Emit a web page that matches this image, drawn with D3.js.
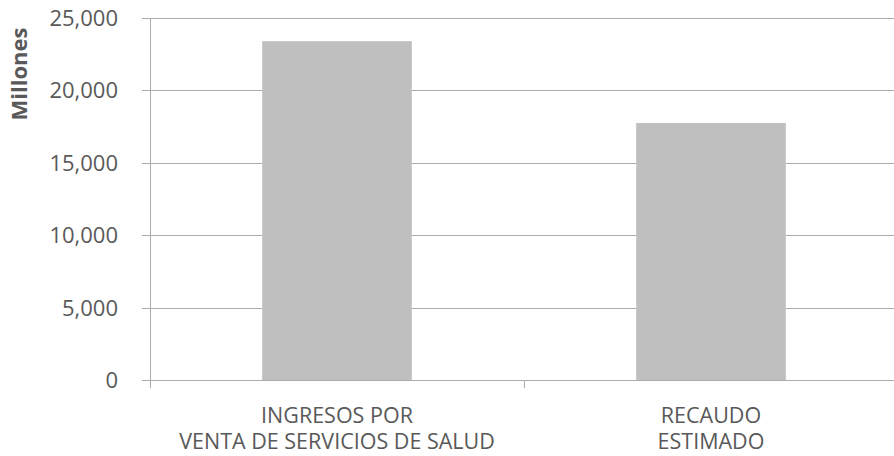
<!DOCTYPE html>
<html>
<head>
<meta charset="utf-8">
<script src="https://cdn.jsdelivr.net/npm/d3@7"></script>
<style>
  html, body { margin: 0; padding: 0; background: #ffffff; }
  svg { display: block; }
  text { font-family: "Open Sans", "DejaVu Sans", sans-serif; fill: #595959; }
</style>
</head>
<body>
<svg id="chart" width="894" height="456"></svg>
<script>
// ---- data ----
const categories = [
  ["INGRESOS POR", "VENTA DE SERVICIOS DE SALUD"],
  ["RECAUDO", "ESTIMADO"]
];
const values = [23400, 17750];
const yTicks = [0, 5000, 10000, 15000, 20000, 25000];
const yAxisTitle = "Millones";

// ---- layout ----
const W = 894, H = 456;
const plot = { left: 150, right: 898, top: 18, bottom: 380 };

const svg = d3.select("#chart");

const x = d3.scaleBand()
  .domain(d3.range(categories.length))
  .range([plot.left, plot.right])
  .paddingInner(0.6)
  .paddingOuter(0.3);

const y = d3.scaleLinear()
  .domain([0, 25000])
  .range([plot.bottom, plot.top]);

// gridlines
svg.append("g")
  .selectAll("line")
  .data(yTicks)
  .join("line")
  .attr("x1", plot.left - 8)
  .attr("x2", W)
  .attr("y1", d => Math.round(y(d)) + 0.5)
  .attr("y2", d => Math.round(y(d)) + 0.5)
  .attr("stroke", "#ababab")
  .attr("stroke-width", 1);

// y tick labels
const fmt = d3.format(",");
svg.append("g")
  .selectAll("text")
  .data(yTicks)
  .join("text")
  .attr("x", 118)
  .attr("y", d => y(d))
  .attr("dy", "0.36em")
  .attr("text-anchor", "end")
  .style("font-size", "22px")
  .text(d => fmt(d));

// bars
svg.append("g")
  .selectAll("rect")
  .data(values)
  .join("rect")
  .attr("x", (d, i) => x(i))
  .attr("y", d => y(d))
  .attr("width", x.bandwidth())
  .attr("height", d => y(0) - y(d))
  .attr("fill", "#bfbfbf");

// y axis line
svg.append("line")
  .attr("x1", plot.left + 0.5).attr("x2", plot.left + 0.5)
  .attr("y1", plot.top).attr("y2", plot.bottom + 8)
  .attr("stroke", "#ababab");

// category boundary ticks
const step = x.step();
const boundaries = d3.range(categories.length + 1).map(i => plot.left + i * step);
svg.append("g")
  .selectAll("line")
  .data(boundaries.slice(1))
  .join("line")
  .attr("x1", d => Math.round(d) + 0.5)
  .attr("x2", d => Math.round(d) + 0.5)
  .attr("y1", plot.bottom)
  .attr("y2", plot.bottom + 8)
  .attr("stroke", "#ababab");

// category labels (two lines each)
const lineBaselines = [423, 449];
categories.forEach((lines, i) => {
  svg.append("g")
    .selectAll("text")
    .data(lines)
    .join("text")
    .attr("x", x(i) + x.bandwidth() / 2)
    .attr("y", (d, j) => lineBaselines[j])
    .attr("text-anchor", "middle")
    .style("font-size", "21.5px")
    .text(d => d);
});

// y axis title
svg.append("text")
  .attr("transform", "translate(27,74) rotate(-90)")
  .attr("text-anchor", "middle")
  .style("font-size", "22px")
  .style("font-weight", "bold")
  .text(yAxisTitle);
</script>
</body>
</html>
